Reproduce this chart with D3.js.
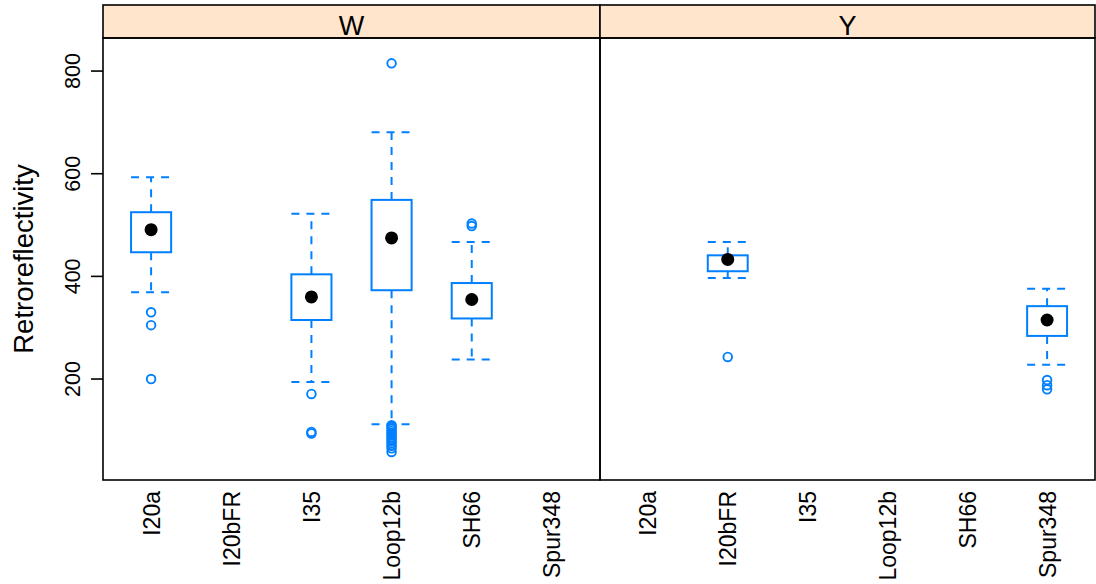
<!DOCTYPE html>
<html>
<head>
<meta charset="utf-8">
<script src="https://cdn.jsdelivr.net/npm/d3@7"></script>
<style>
  body { margin: 0; background: #fff; }
  text { font-family: "Liberation Sans", Arial, Helvetica, sans-serif; fill: #000; }
</style>
</head>
<body>
<svg width="1096" height="584"></svg>
<script>
var width = 1096;
var height = 584;

var panels = ["W", "Y"];
var roads = ["I20a", "I20bFR", "I35", "Loop12b", "SH66", "Spur348"];
var yTicks = [200, 400, 600, 800];

// one entry per box that has data
var boxPanel   = ["W", "W", "W", "W", "Y", "Y"];
var boxRoad    = ["I20a", "I35", "Loop12b", "SH66", "I20bFR", "Spur348"];
var whiskerLo  = [369, 194, 112, 238, 397, 228];
var q1         = [447, 315, 373, 318, 410, 284];
var median     = [491, 360, 475, 355, 433, 315];
var q3         = [525, 404, 549, 387, 441, 342];
var whiskerHi  = [593, 522, 681, 467, 467, 376];
var outliers   = [
  [330, 305, 200],
  [171, 97, 94],
  [815, 110, 107, 103, 99, 95, 91, 87, 83, 79, 75, 70, 65, 58],
  [503, 498],
  [243],
  [198, 188, 180]
];

var blue = "#0080ff";
var plotTop = 38, plotBottom = 480, stripTop = 5;
var panelX = {W: [103, 600], Y: [600, 1095]};

var svg = d3.select("svg");

var y = d3.scaleLinear().domain([3.3, 864.4]).range([plotBottom, plotTop]);

var boxes = boxRoad.map(function(r, i) {
  return {panel: boxPanel[i], road: r, lo: whiskerLo[i], q1: q1[i], med: median[i],
          q3: q3[i], hi: whiskerHi[i], out: outliers[i]};
});

panels.forEach(function(p) {
  var x0 = panelX[p][0], x1 = panelX[p][1];
  var x = d3.scalePoint().domain(roads).range([x0, x1]).padding(0.6);
  var bw = x.step() / 2;

  var g = svg.append("g");

  // strip
  g.append("rect").attr("x", x0).attr("y", stripTop).attr("width", x1 - x0).attr("height", plotTop - stripTop)
    .attr("fill", "#ffe5cc").attr("stroke", "#000").attr("stroke-width", 1.6);
  g.append("text").attr("x", (x0 + x1) / 2).attr("y", plotTop - 3.5).attr("text-anchor", "middle")
    .attr("font-size", 27).text(p);

  // panel frame
  g.append("rect").attr("x", x0).attr("y", plotTop).attr("width", x1 - x0).attr("height", plotBottom - plotTop)
    .attr("fill", "none").attr("stroke", "#000").attr("stroke-width", 1.6);

  // x labels
  g.selectAll(".xlab").data(roads).enter().append("text")
    .attr("class", "xlab")
    .attr("transform", function(d) { return "translate(" + (x(d) + 8.5) + "," + (plotBottom + 11) + ") rotate(-90)"; })
    .attr("text-anchor", "end")
    .attr("font-size", 23)
    .text(function(d) { return d; });

  var bx = g.selectAll(".box").data(boxes.filter(function(b) { return b.panel === p; }))
    .enter().append("g").attr("class", "box")
    .attr("transform", function(d) { return "translate(" + x(d.road) + ",0)"; });

  // whiskers
  bx.append("line").attr("x1", 0).attr("x2", 0)
    .attr("y1", function(d) { return y(d.q3); }).attr("y2", function(d) { return y(d.hi); })
    .attr("stroke", blue).attr("stroke-width", 2).attr("stroke-dasharray", "8,7");
  bx.append("line").attr("x1", 0).attr("x2", 0)
    .attr("y1", function(d) { return y(d.q1); }).attr("y2", function(d) { return y(d.lo); })
    .attr("stroke", blue).attr("stroke-width", 2).attr("stroke-dasharray", "8,7");
  bx.append("line").attr("x1", -bw / 2).attr("x2", bw / 2)
    .attr("y1", function(d) { return y(d.hi); }).attr("y2", function(d) { return y(d.hi); })
    .attr("stroke", blue).attr("stroke-width", 2).attr("stroke-dasharray", "8,7");
  bx.append("line").attr("x1", -bw / 2).attr("x2", bw / 2)
    .attr("y1", function(d) { return y(d.lo); }).attr("y2", function(d) { return y(d.lo); })
    .attr("stroke", blue).attr("stroke-width", 2).attr("stroke-dasharray", "8,7");

  // box
  bx.append("rect").attr("x", -bw / 2).attr("width", bw)
    .attr("y", function(d) { return y(d.q3); })
    .attr("height", function(d) { return y(d.q1) - y(d.q3); })
    .attr("fill", "none").attr("stroke", blue).attr("stroke-width", 2);

  // outliers
  bx.selectAll(".out").data(function(d) { return d.out; }).enter().append("circle")
    .attr("class", "out").attr("cx", 0).attr("cy", function(v) { return y(v); }).attr("r", 4.3)
    .attr("fill", "none").attr("stroke", blue).attr("stroke-width", 1.9);

  // median dot
  bx.append("circle").attr("cx", 0).attr("cy", function(d) { return y(d.med); }).attr("r", 6.5)
    .attr("fill", "#000");
});

// y axis
var ax = svg.append("g");
ax.selectAll(".tick").data(yTicks).enter().append("line")
  .attr("x1", 91).attr("x2", 103)
  .attr("y1", function(d) { return y(d); }).attr("y2", function(d) { return y(d); })
  .attr("stroke", "#000").attr("stroke-width", 1.6);
ax.selectAll(".tlab").data(yTicks).enter().append("text")
  .attr("transform", function(d) { return "translate(80," + y(d) + ") rotate(-90)"; })
  .attr("text-anchor", "middle").attr("font-size", 21.5)
  .text(function(d) { return d; });

svg.append("text")
  .attr("transform", "translate(33," + ((plotTop + plotBottom) / 2) + ") rotate(-90)")
  .attr("text-anchor", "middle").attr("font-size", 27.5)
  .text("Retroreflectivity");
</script>
</body>
</html>
